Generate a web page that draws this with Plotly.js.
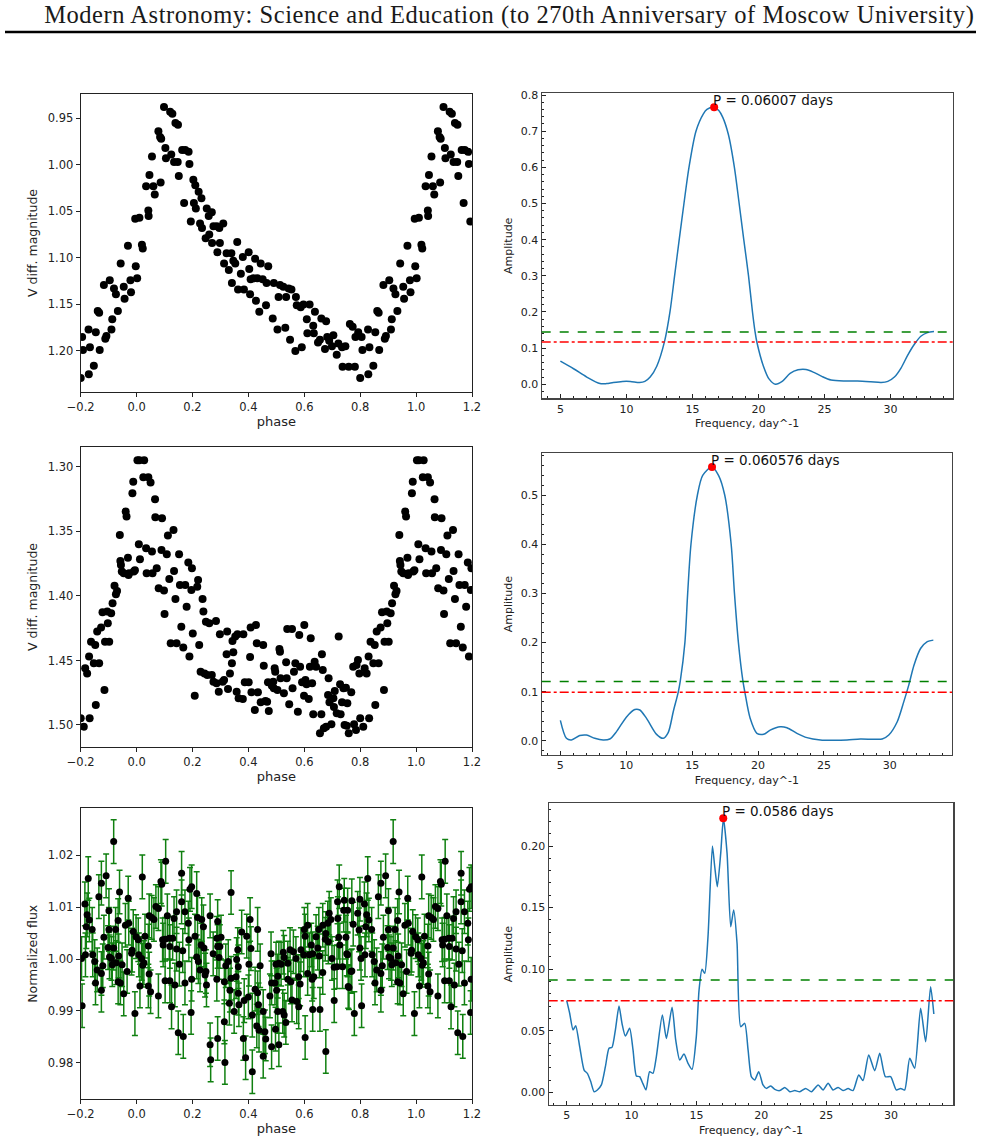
<!DOCTYPE html>
<html><head><meta charset="utf-8">
<script src="https://cdn.plot.ly/plotly-3.0.1.min.js"></script>
<style>html,body{margin:0;padding:0;background:#fff}#chart{width:983px;height:1148px}
#chart g.annotation[data-index="0"] text{letter-spacing:0.55px}</style>
</head><body><div id="chart"></div>
<script>
// ---------- Header ----------
const headerText = "Modern Astronomy: Science and Education (to 270th Anniversary of Moscow University)";

// ---------- Panel 1: light curve (phase 0..1, repeated outside) ----------
const lc1Phase = [0.002,0.995,0.01,0.997,0.019,0.022,0.034,0.046,0.042,0.043,0.055,0.06,0.065,0.078,0.084,0.088,0.086,0.098,0.103,0.105,0.12,0.128,0.124,0.134,0.139,0.148,0.147,0.151,0.163,0.17,0.174,0.186,0.189,0.194,0.203,0.21,0.205,0.212,0.222,0.232,0.227,0.234,0.247,0.251,0.258,0.26,0.269,0.27,0.275,0.287,0.289,0.298,0.296,0.31,0.313,0.322,0.33,0.339,0.341,0.346,0.353,0.36,0.363,0.373,0.38,0.384,0.401,0.403,0.406,0.408,0.418,0.424,0.427,0.432,0.439,0.444,0.451,0.463,0.465,0.471,0.487,0.491,0.504,0.508,0.513,0.525,0.532,0.535,0.544,0.549,0.554,0.57,0.573,0.568,0.587,0.591,0.597,0.609,0.611,0.619,0.632,0.634,0.638,0.649,0.656,0.661,0.674,0.678,0.682,0.689,0.699,0.704,0.716,0.722,0.735,0.737,0.747,0.759,0.763,0.773,0.783,0.781,0.793,0.80,0.805,0.808,0.828,0.829,0.833,0.847,0.854,0.861,0.866,0.868,0.883,0.888,0.892,0.904,0.91,0.913,0.919,0.926,0.933,0.943,0.954,0.957,0.969,0.978,0.98];
const lc1Mag = [1.122,1.058,1.057,1.109,1.086,1.090,1.023,1.011,1.049,1.055,0.991,1.023,1.032,0.964,0.970,0.972,1.019,0.938,0.982,0.993,0.943,0.945,0.989,0.997,0.955,0.957,0.997,1.012,0.984,1.041,0.984,0.986,0.999,1.061,1.016,1.022,1.041,1.047,1.029,1.036,1.063,1.068,1.079,1.047,1.055,1.075,1.051,1.084,1.066,1.066,1.094,1.084,1.068,1.063,1.106,1.095,1.113,1.095,1.127,1.103,1.106,1.083,1.134,1.117,1.099,1.134,1.094,1.112,1.139,1.123,1.122,1.101,1.146,1.122,1.158,1.106,1.123,1.151,1.127,1.109,1.165,1.127,1.177,1.142,1.129,1.131,1.175,1.142,1.133,1.188,1.134,1.142,1.151,1.200,1.153,1.196,1.150,1.166,1.181,1.150,1.173,1.181,1.158,1.191,1.188,1.165,1.198,1.168,1.185,1.189,1.195,1.183,1.204,1.192,1.196,1.217,1.195,1.217,1.171,1.174,1.185,1.217,1.180,1.229,1.185,1.199,1.177,1.225,1.196,1.216,1.180,1.157,1.159,1.199,1.129,1.187,1.184,1.124,1.177,1.166,1.133,1.139,1.157,1.106,1.131,1.144,1.087,1.124,1.137];

// ---------- Panel 2: periodogram ----------
const pg1Freq = [5.0,6.0,7.0,8.0,8.5,9.0,9.7,10.3,11.0,11.4,11.8,12.3,12.9,13.3,13.65,14.0,14.36,14.74,15.27,15.83,16.1,16.6,17.0,17.3,17.73,18.18,18.54,18.89,19.25,19.55,19.75,19.88,20.38,20.8,21.3,21.8,22.4,23.0,23.6,24.2,24.8,25.5,26.5,27.5,28.5,29.3,29.8,30.3,30.8,31.3,31.8,32.3,32.8,33.3];
const pg1Amp = [0.064,0.043,0.020,0.002,0.002,0.005,0.008,0.008,0.005,0.008,0.020,0.050,0.120,0.200,0.300,0.400,0.500,0.600,0.700,0.748,0.760,0.766,0.757,0.738,0.690,0.600,0.500,0.400,0.300,0.200,0.144,0.117,0.050,0.015,0.000,0.008,0.030,0.040,0.041,0.033,0.022,0.012,0.009,0.009,0.007,0.005,0.008,0.020,0.045,0.080,0.110,0.133,0.143,0.146];
const pg1Peak = {freq: 16.647, amp: 0.766, label: "P = 0.06007 days"};
const pg1Levels = {green: 0.1447, red: 0.117};

// ---------- Panel 3: light curve ----------
const lc2Phase = [0.003,0.01,0.027,0.008,0.012,0.024,0.034,0.036,0.042,0.05,0.055,0.057,0.066,0.067,0.072,0.079,0.089,0.091,0.098,0.1,0.108,0.112,0.117,0.122,0.132,0.134,0.139,0.143,0.152,0.155,0.16,0.167,0.174,0.179,0.185,0.189,0.196,0.198,0.201,0.208,0.217,0.22,0.224,0.229,0.236,0.239,0.243,0.248,0.253,0.26,0.269,0.275,0.284,0.286,0.294,0.298,0.308,0.313,0.322,0.324,0.327,0.334,0.341,0.343,0.346,0.353,0.358,0.361,0.365,0.38,0.382,0.387,0.401,0.406,0.408,0.411,0.423,0.427,0.43,0.434,0.444,0.453,0.455,0.461,0.467,0.47,0.473,0.484,0.489,0.491,0.494,0.496,0.504,0.511,0.513,0.515,0.527,0.535,0.537,0.539,0.546,0.556,0.558,0.563,0.568,0.577,0.582,0.585,0.592,0.599,0.6,0.604,0.608,0.616,0.62,0.623,0.628,0.632,0.637,0.642,0.656,0.661,0.663,0.666,0.67,0.678,0.685,0.687,0.69,0.697,0.704,0.706,0.709,0.716,0.723,0.728,0.73,0.735,0.74,0.744,0.749,0.752,0.754,0.759,0.768,0.775,0.778,0.785,0.787,0.792,0.797,0.8,0.811,0.816,0.823,0.83,0.832,0.837,0.847,0.852,0.854,0.859,0.866,0.873,0.878,0.885,0.887,0.895,0.897,0.902,0.909,0.914,0.921,0.926,0.93,0.94,0.942,0.944,0.947,0.954,0.961,0.964,0.969,0.971,0.973,0.985,0.988,0.99,0.994];
const lc2Mag = [1.2948,1.2948,1.2948,1.3600,1.3716,1.3080,1.3630,1.3824,1.3080,1.3120,1.3656,1.3824,1.3250,1.3390,1.3786,1.3940,1.3643,1.3398,1.3958,1.4140,1.3677,1.3532,1.3868,1.4367,1.3488,1.3806,1.4023,1.4367,1.3677,1.3915,1.4238,1.4400,1.3915,1.4083,1.3740,1.4470,1.3953,1.3786,1.4290,1.4773,1.3928,1.3876,1.4380,1.4587,1.4023,1.4121,1.4600,1.4200,1.4612,1.4212,1.4612,1.4664,1.4194,1.4677,1.4742,1.4297,1.4664,1.4651,1.4452,1.4276,1.4721,1.4600,1.4522,1.4349,1.4437,1.4315,1.4742,1.4297,1.4793,1.4799,1.4297,1.4669,1.4669,1.4473,1.4245,1.4747,1.4884,1.4225,1.4367,1.4747,1.4824,1.4380,1.4540,1.4814,1.4819,1.4669,1.4891,1.4695,1.4664,1.4716,1.4561,1.4587,1.4729,1.4411,1.4432,1.4638,1.4755,1.4514,1.4638,1.4256,1.4840,1.4256,1.4716,1.4587,1.4522,1.4897,1.4302,1.4548,1.4669,1.4773,1.4225,1.4651,1.4685,1.4799,1.4548,1.4328,1.4677,1.4917,1.4509,1.4548,1.5065,1.4917,1.4452,1.4574,1.5026,1.5013,1.4767,1.4638,1.4824,1.4995,1.4793,1.4860,1.4736,1.4910,1.4315,1.4685,1.4917,1.4824,1.4716,1.5000,1.4711,1.5005,1.4832,1.5065,1.4747,1.4548,1.4995,1.5039,1.4535,1.4496,1.4600,1.4948,1.5013,1.4561,1.4600,1.4470,1.4948,1.4354,1.4522,1.4380,1.4845,1.4276,1.4522,1.4245,1.4127,1.4729,1.4354,1.4121,1.4212,1.4354,1.4134,1.4057,1.3920,1.3987,1.3961,1.3527,1.3729,1.3760,1.3811,1.3824,1.3346,1.3385,1.3703,1.3837,1.3824,1.3204,1.3114,1.3811,1.3800];

// ---------- Panel 4: periodogram ----------
const pg2Freq = [5.0,5.46,5.84,6.47,6.98,7.61,8.25,8.75,9.26,10.02,10.65,11.03,11.54,12.3,12.81,13.19,13.57,13.95,14.1,14.45,14.66,14.91,15.4,15.8,16.5,17.0,17.47,17.96,18.21,18.51,18.85,19.0,19.4,19.91,20.42,20.92,21.68,22.19,22.95,23.71,24.73,25.74,26.75,27.77,28.78,29.42,29.92,30.56,31.06,31.44,31.83,32.33,32.84,33.3];
const pg2Amp = [0.042,0.0054,0.002,0.011,0.012,0.0054,0.002,0.004,0.019,0.049,0.064,0.063,0.046,0.0135,0.0054,0.0176,0.06,0.10,0.122,0.20,0.30,0.40,0.50,0.54,0.557,0.54,0.50,0.40,0.30,0.20,0.122,0.099,0.046,0.0156,0.0135,0.022,0.029,0.027,0.0156,0.0068,0.002,0.0014,0.002,0.004,0.0034,0.004,0.012,0.039,0.08,0.114,0.154,0.188,0.202,0.205];
const pg2Peak = {freq: 16.508, amp: 0.557, label: "P = 0.060576 days"};
const pg2Levels = {green: 0.121, red: 0.0989};

// ---------- Panel 5: normalized flux with errors ----------
const lc3Phase = [0.0204,0.104,0.087,0.09,0.161,0.197,0.191,0.215,0.069,0.078,0.045,0.054,0.062,0.161,0.11,0.143,0.134,0.173,0.185,0.218,0.233,0.239,0.263,0.988,0.998,0.006,0.03,0.042,0.093,0.102,0.117,0.129,0.095,0.119,0.143,0.165,0.187,0.209,0.231,0.241,0.982,0.008,0.018,0.026,0.022,0.045,0.012,0.042,0.05,0.078,0.153,0.102,0.119,0.137,0.173,0.197,0.221,0.215,0.227,0.248,0.25,0.125,0.994,0.149,0.167,0.195,0.263,0.265,
0.338,0.29,0.406,0.433,0.376,0.394,0.287,0.302,0.29,0.298,0.274,0.295,0.362,0.409,0.328,0.319,0.358,0.364,0.402,0.442,0.287,0.314,0.338,0.356,0.245,0.334,0.364,0.424,0.433,0.40,0.385,0.332,0.366,0.349,0.414,0.436,0.453,0.477,0.495,0.501,0.483,0.505,0.481,0.509,0.43,0.438,0.459,0.462,0.497,0.483,0.509,0.314,0.29,0.316,0.382,0.39,0.414,0.453,
0.725,0.719,0.743,0.755,0.741,0.689,0.695,0.684,0.666,0.652,0.72,0.612,0.60,0.603,0.642,0.677,0.675,0.686,0.723,0.749,0.727,0.625,0.648,0.525,0.549,0.561,0.528,0.588,0.57,0.598,0.618,0.63,0.654,0.499,0.517,0.541,0.699,0.717,0.737,0.707,0.755,0.767,0.541,0.552,0.58,0.585,0.612,0.628,0.634,0.666,0.757,0.556,0.573,0.58,0.505,0.523,0.528,0.534,0.63,0.656,0.707,0.603,0.677,
0.918,0.827,0.874,0.891,0.865,0.901,0.939,0.97,0.77,0.799,0.815,0.791,0.775,0.796,0.823,0.831,0.841,0.82,0.883,0.901,0.925,0.934,0.96,0.972,0.752,0.77,0.76,0.799,0.803,0.817,0.843,0.85,0.859,0.874,0.874,0.853,0.918,0.936,0.91,0.927,0.898,0.903,0.879,0.913,0.948,0.966,0.934,0.942,0.954,0.984,0.779,0.805];
const lc3Flux = [1.0158,1.0188,1.0149,1.0144,1.0165,1.0139,1.0134,1.0126,1.0101,1.0097,1.0083,1.0080,1.0076,1.0110,1.0083,1.0091,1.0078,1.0091,1.0069,1.0080,1.0076,1.0062,1.0083,1.0053,1.0043,1.0037,1.0044,1.0025,1.0037,1.0038,1.0040,1.0040,1.0027,1.0024,1.0019,1.0016,1.0037,1.0044,1.0027,1.0021,1.0011,1.0008,1.0001,0.9993,0.9988,0.9971,0.9948,0.9948,0.9937,0.9929,0.9990,0.9958,0.9958,0.9950,0.9954,0.9961,0.9995,1.0004,0.9979,0.9976,0.9950,0.9908,0.9895,0.9858,0.9851,0.9897,0.9835,0.9806,
1.0128,1.0072,1.0076,1.0057,1.0052,1.0044,1.0040,1.0042,1.0024,1.0024,1.0010,1.0003,1.0018,1.0020,0.9995,0.9987,0.9999,0.9985,0.9990,0.9987,0.9961,0.9956,0.9963,0.9966,0.9969,0.9940,0.9934,0.9942,0.9935,0.9927,0.9920,0.9915,0.9912,0.9899,0.9892,0.9912,0.9899,0.9929,0.9954,0.9940,0.9954,0.9967,1.0010,0.9992,0.9871,0.9863,0.9860,0.9846,0.9865,0.9831,0.9835,0.9879,0.9847,0.9801,0.9847,0.9810,0.9783,0.9813,
1.0139,1.0110,1.0113,1.0094,1.0094,1.0088,1.0076,1.0069,1.0065,1.0057,1.0078,1.0065,1.0057,1.0044,1.0043,1.0049,1.0038,1.0033,1.0042,1.0042,1.0027,1.0027,1.0021,1.0013,1.0018,1.0014,1.0003,1.0018,1.0001,1.0008,1.0008,1.0010,1.0006,0.9990,0.9990,0.9992,1.0001,0.9985,0.9985,0.9984,1.0008,0.9976,0.9961,0.9956,0.9966,0.9952,0.9972,0.9961,0.9966,0.9974,0.9947,0.9921,0.9918,0.9908,0.9899,0.9899,0.9892,0.9878,0.9903,0.9903,0.9920,0.9849,0.9822,
1.0226,1.0155,1.0146,1.0160,1.0120,1.0093,1.0129,1.0117,1.0112,1.0115,1.0106,1.0088,1.0067,1.0056,1.0085,1.0075,1.0057,1.0062,1.0042,1.0057,1.0057,1.0074,1.0065,1.0069,1.0010,0.9977,0.9945,1.0021,1.0001,1.0008,1.0008,0.9995,0.9979,0.9972,0.9940,0.9954,1.0021,1.0006,1.0001,0.9993,1.0022,1.0004,0.9987,0.9989,0.9989,0.9976,0.9956,0.9954,0.9933,1.0017,0.9895,0.9910];
const lc3Err = 0.0042;

// ---------- Panel 6: periodogram ----------
const pg3Freq = [5.0,5.23,5.49,5.69,6.0,6.34,6.59,6.85,7.11,7.36,7.67,7.98,8.26,8.49,8.75,9.03,9.26,9.52,9.85,10.11,10.37,10.62,10.88,11.11,11.39,11.65,11.91,12.37,12.68,13.12,13.4,13.71,14.04,14.35,14.66,14.99,15.2,15.43,15.64,15.89,16.23,16.41,16.61,16.87,17.08,17.36,17.64,17.87,18.13,18.41,18.72,18.98,19.23,19.49,19.8,20.13,20.39,20.73,21.04,21.42,21.81,22.2,22.58,22.97,23.41,23.87,24.38,24.76,25.15,25.53,25.92,26.3,26.69,27.07,27.51,27.84,28.28,28.74,29.13,29.56,29.97,30.41,30.74,31.05,31.44,31.82,32.28,32.67,33.05,33.3];
const pg3Amp = [0.0744,0.064,0.0506,0.054,0.037,0.018,0.0154,0.0087,0.0005,0.0019,0.006,0.0208,0.0357,0.0365,0.0506,0.070,0.056,0.0457,0.052,0.0344,0.0133,0.0127,0.0068,0.0019,0.0168,0.0154,0.029,0.0628,0.0438,0.069,0.0425,0.0263,0.0311,0.0235,0.0187,0.0452,0.083,0.0999,0.0966,0.1264,0.200,0.1832,0.167,0.194,0.2225,0.194,0.1345,0.148,0.121,0.0533,0.056,0.0344,0.0127,0.010,0.0168,0.006,0.0032,0.0051,0.0024,0.0014,0.004,0.0005,0.0014,0.0005,0.0032,0.0005,0.006,0.0019,0.0073,0.0019,0.004,0.0014,0.003,0.0014,0.0141,0.0095,0.0303,0.0176,0.0317,0.0127,0.0127,0.0019,0.0032,0.0019,0.0276,0.0195,0.0682,0.0411,0.0858,0.0636];
const pg3Peak = {freq: 17.065, amp: 0.2225, label: "P = 0.0586 days"};
const pg3Levels = {green: 0.0912, red: 0.0744};

// ---------- Tick/axis labels ----------
const lcXTitle = "phase";
const lc1YTitle = "V diff. magnitude";
const lc3YTitle = "Normalized flux";
const pgXTitle = "Frequency, day^-1";
const pgYTitle = "Amplitude";

// ================= build =================
const W = 983, H = 1148;
function extendPhase(ph, val) {
  const x = [], y = [];
  for (let i = 0; i < ph.length; i++) {
    x.push(ph[i]); y.push(val[i]);
    if (ph[i] >= 0.8) { x.push(ph[i] - 1); y.push(val[i]); }
    if (ph[i] < 0.2) { x.push(ph[i] + 1); y.push(val[i]); }
  }
  return {x, y};
}
function dom(a, b, size, flip) {
  return flip ? [1 - b / size, 1 - a / size] : [a / size, b / size];
}
const boxes = {
  p1: {l: 80.7, r: 472, t: 94, b: 392},
  p2: {l: 541.7, r: 952.7, t: 93.3, b: 398.3},
  p3: {l: 80.7, r: 472, t: 446.7, b: 747.3},
  p4: {l: 541.7, r: 952, t: 453.3, b: 755},
  p5: {l: 80.7, r: 472, t: 808.3, b: 1099.3},
  p6: {l: 548.7, r: 953.3, t: 803.3, b: 1105}
};
const FONT = "DejaVu Sans, Verdana, sans-serif";
const TXT = "#222";

function lcXAxis(box) {
  return {
    domain: dom(box.l, box.r, W), range: [-0.2, 1.2], tick0: 0, dtick: 0.2, tickformat: ".1f",
    ticks: "outside", ticklen: 4, tickwidth: 1, tickcolor: TXT,
    showline: true, mirror: true, linecolor: TXT, linewidth: 1,
    showgrid: false, zeroline: false, automargin: false,
    tickfont: {family: FONT, size: 11.5, color: TXT},
    title: {text: lcXTitle, font: {family: FONT, size: 13, color: TXT}, standoff: 3}
  };
}
function lcYAxis(box, range, dtick, fmt, title, anchor) {
  return {
    domain: dom(box.t, box.b, H, true), range: range, dtick: dtick, tickformat: fmt,
    ticks: "outside", ticklen: 4, tickwidth: 1, tickcolor: TXT,
    showline: true, mirror: true, linecolor: TXT, linewidth: 1,
    showgrid: false, zeroline: false, automargin: false, anchor: anchor,
    tickfont: {family: FONT, size: 11.5, color: TXT},
    title: {text: title, font: {family: FONT, size: 12.5, color: TXT}, standoff: 7}
  };
}
function pgXAxis(box, anchor) {
  return {
    domain: dom(box.l, box.r, W), range: [3.585, 34.715], tick0: 5, dtick: 5,
    ticks: "inside", ticklen: 4, tickwidth: 1, tickcolor: TXT,
    minor: {ticks: "inside", dtick: 1, ticklen: 2, tickwidth: 1, tickcolor: TXT, showgrid: false},
    showline: true, mirror: true, linecolor: "#444", linewidth: 1.2,
    showgrid: false, zeroline: false, automargin: false, anchor: anchor,
    tickfont: {family: FONT, size: 11, color: TXT},
    title: {text: pgXTitle, font: {family: FONT, size: 11, color: TXT}, standoff: 4}
  };
}
function pgYAxis(box, range, dtick, mdtick, fmt, anchor) {
  return {
    domain: dom(box.t, box.b, H, true), range: range, tick0: 0, dtick: dtick, tickformat: fmt,
    ticks: "inside", ticklen: 4, tickwidth: 1, tickcolor: TXT,
    minor: {ticks: "inside", dtick: mdtick, ticklen: 2, tickwidth: 1, tickcolor: TXT, showgrid: false},
    showline: true, mirror: true, linecolor: "#444", linewidth: 1.2,
    showgrid: false, zeroline: false, automargin: false, anchor: anchor,
    tickfont: {family: FONT, size: 11, color: TXT},
    title: {text: pgYTitle, font: {family: FONT, size: 11, color: TXT}, standoff: 6}
  };
}

const e1 = extendPhase(lc1Phase, lc1Mag);
const e2 = extendPhase(lc2Phase, lc2Mag);
const e3 = extendPhase(lc3Phase, lc3Flux);

const dot = (size) => ({color: "#000", size: size});
const traces = [
  {x: e1.x, y: e1.y, xaxis: "x", yaxis: "y", mode: "markers", type: "scatter", marker: dot(8), showlegend: false},
  {x: pg1Freq, y: pg1Amp, xaxis: "x2", yaxis: "y2", mode: "lines", type: "scatter",
   line: {color: "#1f77b4", width: 1.5, shape: "spline", smoothing: 0.8}, showlegend: false},
  {x: [pg1Peak.freq], y: [pg1Peak.amp], xaxis: "x2", yaxis: "y2", mode: "markers", type: "scatter",
   marker: {color: "red", size: 8}, showlegend: false},
  {x: e2.x, y: e2.y, xaxis: "x3", yaxis: "y3", mode: "markers", type: "scatter", marker: dot(8), showlegend: false},
  {x: pg2Freq, y: pg2Amp, xaxis: "x4", yaxis: "y4", mode: "lines", type: "scatter",
   line: {color: "#1f77b4", width: 1.5, shape: "spline", smoothing: 0.8}, showlegend: false},
  {x: [pg2Peak.freq], y: [pg2Peak.amp], xaxis: "x4", yaxis: "y4", mode: "markers", type: "scatter",
   marker: {color: "red", size: 8}, showlegend: false},
  {x: e3.x, y: e3.y, xaxis: "x5", yaxis: "y5", mode: "markers", type: "scatter", marker: dot(7),
   error_y: {type: "constant", value: lc3Err, color: "#108010", thickness: 1.5, width: 3}, showlegend: false},
  {x: pg3Freq, y: pg3Amp, xaxis: "x6", yaxis: "y6", mode: "lines", type: "scatter",
   line: {color: "#1f77b4", width: 1.5, shape: "spline", smoothing: 0.6}, showlegend: false},
  {x: [pg3Peak.freq], y: [pg3Peak.amp], xaxis: "x6", yaxis: "y6", mode: "markers", type: "scatter",
   marker: {color: "red", size: 8}, showlegend: false}
];

function levelShapes(ax, levels) {
  return [
    {type: "line", xref: ax.x + " domain", x0: 0, x1: 1, yref: ax.y, y0: levels.green, y1: levels.green,
     line: {color: "#008000", width: 1.5, dash: "dash"}},
    {type: "line", xref: ax.x + " domain", x0: 0, x1: 1, yref: ax.y, y0: levels.red, y1: levels.red,
     line: {color: "#ff0000", width: 1.5, dash: "dashdot"}}
  ];
}
function peakNote(ax, pk) {
  return {x: pk.freq, y: pk.amp, xref: ax.x, yref: ax.y, text: pk.label, showarrow: false,
          xanchor: "left", yanchor: "bottom", xshift: -3, yshift: -3,
          font: {family: FONT, size: 13.5, color: "#111"}};
}

const layout = {
  width: W, height: H, margin: {l: 0, r: 0, t: 0, b: 0},
  paper_bgcolor: "#fff", plot_bgcolor: "#fff", showlegend: false,
  xaxis: Object.assign(lcXAxis(boxes.p1), {anchor: "y"}),
  yaxis: lcYAxis(boxes.p1, [1.2441, 0.9239], 0.05, ".2f", lc1YTitle, "x"),
  xaxis2: pgXAxis(boxes.p2, "y2"),
  yaxis2: pgYAxis(boxes.p2, [-0.0387, 0.8047], 0.1, 0.02, ".1f", "x2"),
  xaxis3: Object.assign(lcXAxis(boxes.p3), {anchor: "y3"}),
  yaxis3: lcYAxis(boxes.p3, [1.5173, 1.2843], 0.05, ".2f", lc1YTitle, "x3"),
  xaxis4: pgXAxis(boxes.p4, "y4"),
  yaxis4: pgYAxis(boxes.p4, [-0.0285, 0.5848], 0.1, 0.02, ".1f", "x4"),
  xaxis5: Object.assign(lcXAxis(boxes.p5), {anchor: "y5"}),
  yaxis5: lcYAxis(boxes.p5, [0.973, 1.029], 0.01, ".2f", lc3YTitle, "x5"),
  xaxis6: Object.assign(pgXAxis(boxes.p6, "y6"), {range: [3.61, 34.8]}),
  yaxis6: pgYAxis(boxes.p6, [-0.0103, 0.2347], 0.05, 0.01, ".2f", "x6"),
  shapes: [
    ...levelShapes({x: "x2", y: "y2"}, pg1Levels),
    ...levelShapes({x: "x4", y: "y4"}, pg2Levels),
    ...levelShapes({x: "x6", y: "y6"}, pg3Levels),
    {type: "line", xref: "paper", yref: "paper", x0: 5 / W, x1: 976 / W, y0: 1 - 32 / H, y1: 1 - 32 / H,
     line: {color: "#000", width: 2.5}}
  ],
  annotations: [
    {text: headerText, xref: "paper", yref: "paper", x: 509 / W, y: 1 - 15 / H, xanchor: "center", yanchor: "middle",
     showarrow: false, font: {family: "Liberation Serif, DejaVu Serif, serif", size: 24.5, color: "#1a1a1a"}},
    peakNote({x: "x2", y: "y2"}, pg1Peak),
    peakNote({x: "x4", y: "y4"}, pg2Peak),
    peakNote({x: "x6", y: "y6"}, pg3Peak)
  ]
};

Plotly.newPlot("chart", traces, layout, {staticPlot: true, displayModeBar: false});
</script></body></html>
